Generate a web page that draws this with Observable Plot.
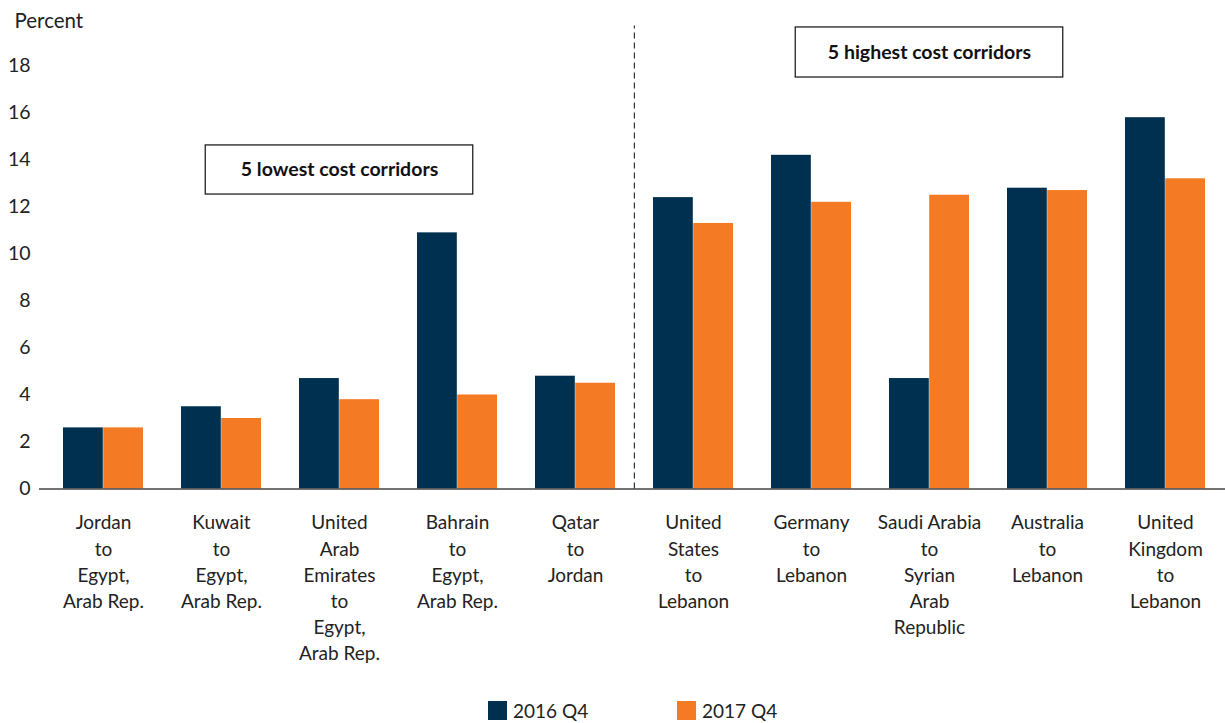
<!DOCTYPE html>
<html><head><meta charset="utf-8">
<script src="https://cdn.jsdelivr.net/npm/d3@7"></script>
<script src="https://cdn.jsdelivr.net/npm/@observablehq/plot@0.6"></script>
<style>
body{margin:0;background:#fff;font-family:Lato,"Noto Sans",sans-serif;color:#222;}
#chart svg{display:block;}
#legend{position:relative;height:43px;font-size:19px;color:#222;}
.item{position:absolute;top:21px;display:flex;align-items:center;height:19px;line-height:19px;}
.sw{width:19px;height:19px;margin-right:6px;}
</style></head><body>
<div id="chart"></div>
<div id="legend"></div>
<script>
const corridors = ["Jordan-Egypt","Kuwait-Egypt","UAE-Egypt","Bahrain-Egypt","Qatar-Jordan","US-Lebanon","Germany-Lebanon","SaudiArabia-Syria","Australia-Lebanon","UK-Lebanon"];
const tickLabels = [
  "Jordan\nto\nEgypt,\nArab Rep.",
  "Kuwait\nto\nEgypt,\nArab Rep.",
  "United\nArab\nEmirates\nto\nEgypt,\nArab Rep.",
  "Bahrain\nto\nEgypt,\nArab Rep.",
  "Qatar\nto\nJordan",
  "United\nStates\nto\nLebanon",
  "Germany\nto\nLebanon",
  "Saudi Arabia\nto\nSyrian\nArab\nRepublic",
  "Australia\nto\nLebanon",
  "United\nKingdom\nto\nLebanon"
];
const series = ["2016 Q4","2017 Q4"];
const v2016 = [2.6,3.5,4.7,10.9,4.8,12.4,14.2,4.7,12.8,15.8];
const v2017 = [2.6,3.0,3.8,4.0,4.5,11.3,12.2,12.5,12.7,13.2];
const colors = ["#00304f","#f47b24"];
const yTicks = [0,2,4,6,8,10,12,14,16,18];
const annotations = [
  {label:"5 lowest cost corridors", corridor:"UAE-Egypt", y1:12.53, y2:14.62, y:13.57},
  {label:"5 highest cost corridors", corridor:"SaudiArabia-Syria", y1:17.51, y2:19.64, y:18.57}
];

const W = 1225, H = 680, mL = 43, mR = 0, mT = 65.5, mB = 191.5;
const xOpts = {type:"band", domain:corridors, paddingInner:0.32, paddingOuter:0.16};
const bw = Plot.scale({x:{...xOpts, range:[mL, W-mR]}}).bandwidth;

const d16 = corridors.map((c,i)=>({corridor:c, series:series[0], value:v2016[i]}));
const d17 = corridors.map((c,i)=>({corridor:c, series:series[1], value:v2017[i]}));

const chart = Plot.plot({
  width: W, height: H,
  marginLeft: mL, marginRight: mR, marginTop: mT, marginBottom: mB,
  style: {fontFamily: 'Lato, "Noto Sans", sans-serif', color: "#222", background: "#fff"},
  x: {...xOpts, axis: null},
  y: {domain:[0,18], ticks: yTicks, axis: null},
  marks: [
    Plot.axisY({ticks: yTicks, tickSize: 0, tickPadding: 13, fontSize: 19.5, label: null}),
    Plot.axisX({tickSize: 0, tickPadding: 22, fontSize: 19, lineHeight: 1.37, label: null,
      tickFormat: d => tickLabels[corridors.indexOf(d)]}),
    Plot.text(["Percent"], {frameAnchor: "top-left", dx: -29, dy: -52.5, textAnchor: "start", fontSize: 20.5, fill: "#222"}),
    Plot.barY(d16, {x: "corridor", y: "value", fill: colors[0], insetRight: bw/2}),
    Plot.barY(d17, {x: "corridor", y: "value", fill: colors[1], insetLeft: bw/2}),
    Plot.ruleY([0], {stroke: "#444", strokeWidth: 1.6, insetLeft: -4}),
    Plot.ruleX([corridors[5]], {x: d => d, y1: 0, y2: 19.7, dx: -bw/2 - (bw/0.68*0.32)/2, stroke: "#333", strokeWidth: 1.2, strokeDasharray: "6,4"}),
    Plot.barY(annotations, {x: "corridor", y1: "y1", y2: "y2", fill: "#fff", stroke: "#222", strokeWidth: 1.3, insetLeft: -93.75, insetRight: -93.75}),
    Plot.text(annotations, {x: "corridor", y: "y", text: "label", fontSize: 19.5, fontWeight: 700, fill: "#111"})
  ]
});
document.getElementById("chart").appendChild(chart);

const legend = document.getElementById("legend");
const lefts = [488, 677];
series.forEach((s,i)=>{
  const it = document.createElement("div");
  it.className = "item";
  it.style.left = lefts[i] + "px";
  it.innerHTML = `<span class="sw" style="background:${colors[i]}"></span><span>${s}</span>`;
  legend.appendChild(it);
});
</script>
</body></html>
